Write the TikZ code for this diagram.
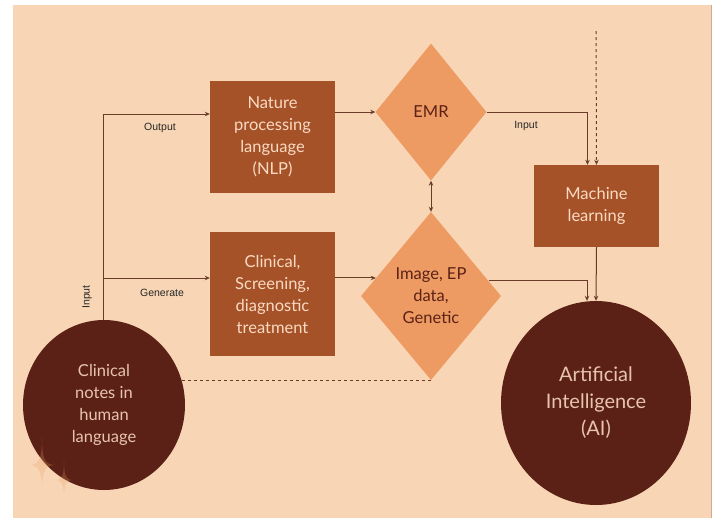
\documentclass[tikz,border=0pt]{standalone}
\usepackage{xcolor}
\usepackage{fontspec}
\setmainfont{Lato}
\newfontfamily\tagfont{Liberation Sans}
\usepackage{tikz}
\usetikzlibrary{shapes.geometric, arrows.meta, positioning, calc}
\definecolor{bgcream}{RGB}{248,214,181}
\definecolor{rustbox}{RGB}{166,82,40}
\definecolor{paleorange}{RGB}{237,155,98}
\definecolor{darkbrown}{RGB}{92,33,22}
\definecolor{boxtext}{RGB}{250,218,194}
\definecolor{hubtext}{RGB}{232,196,176}
\definecolor{linebrown}{RGB}{105,60,40}

\begin{document}
\begin{tikzpicture}[x=1pt, y=-1pt,
    procbox/.style={rectangle, fill=rustbox, text=boxtext, minimum width=125pt, inner sep=2pt,
                    align=center, font=\fontsize{16.5}{22}\selectfont},
    decision/.style={diamond, fill=paleorange, text=darkbrown, aspect=0.82, inner sep=0pt,
                     align=center, font=\fontsize{16.5}{22}\selectfont},
    hub/.style={ellipse, fill=darkbrown, text=hubtext, inner sep=0pt, align=center},
    flow/.style={draw=linebrown, line width=1pt, -{Stealth[length=5pt,width=4.5pt]}},
    tag/.style={font=\tagfont\fontsize{10.5}{12}\selectfont, text=black!85},
    sparkle/.style={fill=paleorange, opacity=0.25}
]
    \useasboundingbox (0,0) rectangle (717,517);
    \fill[white] (0,0) rectangle (717,517);
    \fill[bgcream] (13,5) rectangle (711,522);
    \draw[rustbox!50, line width=0.8pt] (711,5) -- (711,522);

    \node[procbox, minimum height=112pt] (nlp) at (272.5,137) {Nature\\processing\\language\\(NLP)};
    \node[procbox, minimum height=124pt] (clin) at (272.5,294) {Clinical,\\Screening,\\diagnostic\\treatment};
    \node[procbox, minimum height=82pt] (ml) at (596.5,206) {Machine\\learning};
    \node[decision, minimum width=111pt, minimum height=137pt] (emr) at (431,112) {EMR};
    \node[decision, minimum width=140pt, minimum height=168pt] (img) at (431,296) {Image, EP\\data,\\Genetic};
    \node[hub, minimum width=162pt, minimum height=170pt, font=\fontsize{16.5}{22}\selectfont] (notes) at (104,405)
        {Clinical\\notes in\\human\\language};
    \node[hub, minimum width=190pt, minimum height=204pt, font=\fontsize{20}{27}\selectfont] (ai) at (596,403)
        {Artificial\\Intelligence\\(AI)};

    \coordinate (outTop) at (103,114);
    \coordinate (genStart) at (103,278);
    \coordinate (mlFeed) at (596,31);
    \coordinate (imgIn) at ($(img.west)!0.214!(img.north)$);
    \coordinate (imgOut) at ($(img.east)!0.18!(img.north)$);

    \draw[flow] (notes.north -| outTop) |- (nlp.west |- outTop);
    \draw[flow] (genStart) -- (clin.west |- genStart);
    \draw[flow] (nlp.east |- emr.west) -- (emr.west);
    \draw[flow] (clin.east |- imgIn) -- (imgIn);
    \draw[flow] (emr.east) -| ([xshift=-9pt]ml.north);
    \draw[flow, dashed] (mlFeed) -- (ml.north);
    \draw[flow, {Stealth[length=5pt,width=4.5pt]}-{Stealth[length=5pt,width=4.5pt]}] (emr.south) -- (img.north);
    \draw[flow] (imgOut) -| ([xshift=-9pt]ai.north);
    \draw[flow] (ml.south) -- (ai.north);
    \draw[draw=linebrown, line width=1pt, dashed] (img.south) -- (img.south -| notes.18);

    \node[tag] (outLbl) at (160,128) {Output};
    \node[tag] (genLbl) at (162,293) {Generate};
    \node[tag, rotate=90] (inLbl) at (87,297) {Input};
    \node[tag] (mlLbl) at (526,126) {Input};

    \fill[sparkle] (42,437) .. controls (42,460) and (45,465) .. (56,465) .. controls (45,465) and (42,470) .. (42,492)
        .. controls (42,470) and (39,465) .. (28,465) .. controls (39,465) and (42,460) .. (42,437);
    \fill[sparkle] (64,460) .. controls (64,476) and (66,480) .. (73,480) .. controls (66,480) and (64,484) .. (64,500)
        .. controls (64,484) and (62,480) .. (55,480) .. controls (62,480) and (64,476) .. (64,460);
\end{tikzpicture}
\end{document}
